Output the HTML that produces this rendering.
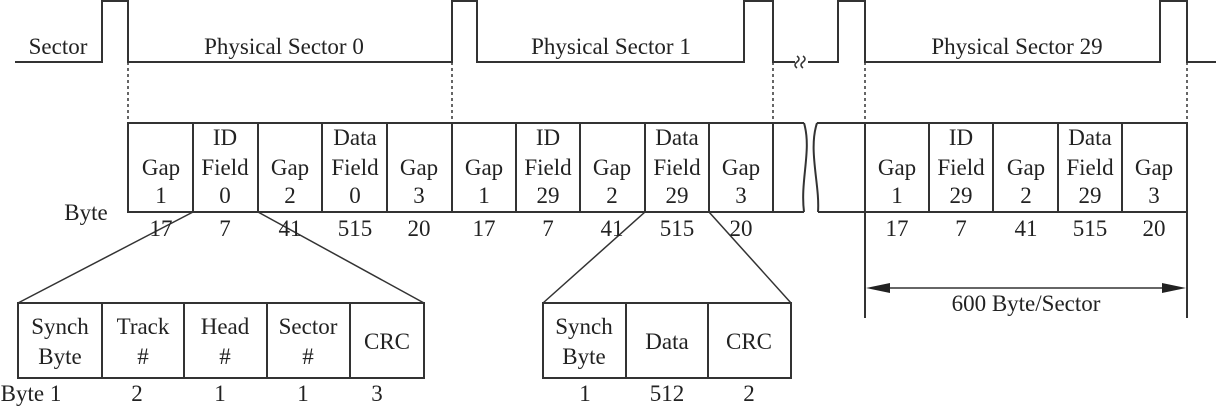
<!DOCTYPE html>
<html><head><meta charset="utf-8"><style>
html,body{margin:0;padding:0;background:#fff;}
svg{display:block;}
text{font-family:"Liberation Serif",serif;font-size:23px;fill:#222;text-anchor:middle;}
</style></head><body>
<svg width="1216" height="407" viewBox="0 0 1216 407" xmlns="http://www.w3.org/2000/svg">
<g fill="none" stroke="#333" stroke-width="2">
<polyline points="15,62 102,62 102,1 128,1 128,62 452,62 452,1 477,1 477,62 744,62 744,1 773,1 773,62 795,62"/>
<polyline points="808,62 838,62 838,1 865,1 865,62 1160,62 1160,1 1187,1 1187,62 1216,62"/>
<path d="M797,56 q4,3 0,6 q-4,3 0,6" stroke-width="1.5"/>
<path d="M803,56 q4,3 0,6 q-4,3 0,6" stroke-width="1.5"/>
<g stroke-dasharray="3,3" stroke-width="1.5">
<line x1="128" y1="62" x2="128" y2="123"/>
<line x1="452" y1="62" x2="452" y2="123"/>
<line x1="773" y1="62" x2="773" y2="123"/>
<line x1="865" y1="62" x2="865" y2="123"/>
<line x1="1187" y1="62" x2="1187" y2="123"/>
</g>
<polyline points="804,123 128,123 128,212 804,212"/>
<polyline points="817,123 1187,123 1187,212 818,212"/>
<path d="M804,123 C812,150 800,180 804,212"/>
<path d="M817,123 C808,150 820,185 818,212"/>
<g>
<line x1="193" y1="123" x2="193" y2="212"/>
<line x1="258" y1="123" x2="258" y2="212"/>
<line x1="322" y1="123" x2="322" y2="212"/>
<line x1="387" y1="123" x2="387" y2="212"/>
<line x1="452" y1="123" x2="452" y2="212"/>
<line x1="516" y1="123" x2="516" y2="212"/>
<line x1="580" y1="123" x2="580" y2="212"/>
<line x1="645" y1="123" x2="645" y2="212"/>
<line x1="709" y1="123" x2="709" y2="212"/>
<line x1="773" y1="123" x2="773" y2="212"/>
<line x1="865" y1="123" x2="865" y2="318"/>
<line x1="929" y1="123" x2="929" y2="212"/>
<line x1="993" y1="123" x2="993" y2="212"/>
<line x1="1058" y1="123" x2="1058" y2="212"/>
<line x1="1122" y1="123" x2="1122" y2="212"/>
<line x1="1187" y1="123" x2="1187" y2="318"/>
</g>
<line x1="193" y1="212" x2="18" y2="303" stroke-width="1.5"/>
<line x1="258" y1="212" x2="424" y2="303" stroke-width="1.5"/>
<line x1="645" y1="212" x2="543" y2="303" stroke-width="1.5"/>
<line x1="709" y1="212" x2="791" y2="303" stroke-width="1.5"/>
<rect x="18" y="303" width="406" height="75"/>
<line x1="102" y1="303" x2="102" y2="378"/>
<line x1="184" y1="303" x2="184" y2="378"/>
<line x1="267" y1="303" x2="267" y2="378"/>
<line x1="350" y1="303" x2="350" y2="378"/>
<rect x="543" y="303" width="248" height="75"/>
<line x1="626" y1="303" x2="626" y2="378"/>
<line x1="708" y1="303" x2="708" y2="378"/>
<line x1="880" y1="288" x2="1172" y2="288" stroke-width="1.5"/>
</g>
<polygon points="866,288 890,283 890,293" fill="#222"/>
<polygon points="1186,288 1162,283 1162,293" fill="#222"/>

<text x="58" y="54">Sector</text>
<text x="284" y="54">Physical Sector 0</text>
<text x="611" y="54">Physical Sector 1</text>
<text x="1017" y="54">Physical Sector 29</text>

<g>
<text x="225" y="145">ID</text><text x="355" y="145">Data</text>
<text x="548" y="145">ID</text><text x="677" y="145">Data</text>
<text x="961" y="145">ID</text><text x="1090" y="145">Data</text>

<text x="161" y="175">Gap</text><text x="225" y="175">Field</text><text x="290" y="175">Gap</text><text x="355" y="175">Field</text><text x="419" y="175">Gap</text>
<text x="484" y="175">Gap</text><text x="548" y="175">Field</text><text x="612" y="175">Gap</text><text x="677" y="175">Field</text><text x="741" y="175">Gap</text>
<text x="897" y="175">Gap</text><text x="961" y="175">Field</text><text x="1026" y="175">Gap</text><text x="1090" y="175">Field</text><text x="1154" y="175">Gap</text>

<text x="161" y="203">1</text><text x="225" y="203">0</text><text x="290" y="203">2</text><text x="355" y="203">0</text><text x="419" y="203">3</text>
<text x="484" y="203">1</text><text x="548" y="203">29</text><text x="612" y="203">2</text><text x="677" y="203">29</text><text x="741" y="203">3</text>
<text x="897" y="203">1</text><text x="961" y="203">29</text><text x="1026" y="203">2</text><text x="1090" y="203">29</text><text x="1154" y="203">3</text>

<text x="86" y="220">Byte</text>
<text x="161" y="236">17</text><text x="225" y="236">7</text><text x="290" y="236">41</text><text x="355" y="236">515</text><text x="419" y="236">20</text>
<text x="484" y="236">17</text><text x="548" y="236">7</text><text x="612" y="236">41</text><text x="677" y="236">515</text><text x="741" y="236">20</text>
<text x="897" y="236">17</text><text x="961" y="236">7</text><text x="1026" y="236">41</text><text x="1090" y="236">515</text><text x="1154" y="236">20</text>

<text x="1026" y="311">600 Byte/Sector</text>

<text x="60" y="334">Synch</text><text x="60" y="364">Byte</text>
<text x="143" y="334">Track</text><text x="143" y="364">#</text>
<text x="225" y="334">Head</text><text x="225" y="364">#</text>
<text x="308" y="334">Sector</text><text x="308" y="364">#</text>
<text x="387" y="349">CRC</text>

<text x="584" y="334">Synch</text><text x="584" y="364">Byte</text>
<text x="667" y="349">Data</text>
<text x="749" y="349">CRC</text>

<text x="31" y="401">Byte 1</text>
<text x="137" y="401">2</text><text x="220" y="401">1</text><text x="303" y="401">1</text><text x="377" y="401">3</text>
<text x="585" y="401">1</text><text x="667" y="401">512</text><text x="749" y="401">2</text>
</g>
</svg>
</body></html>
